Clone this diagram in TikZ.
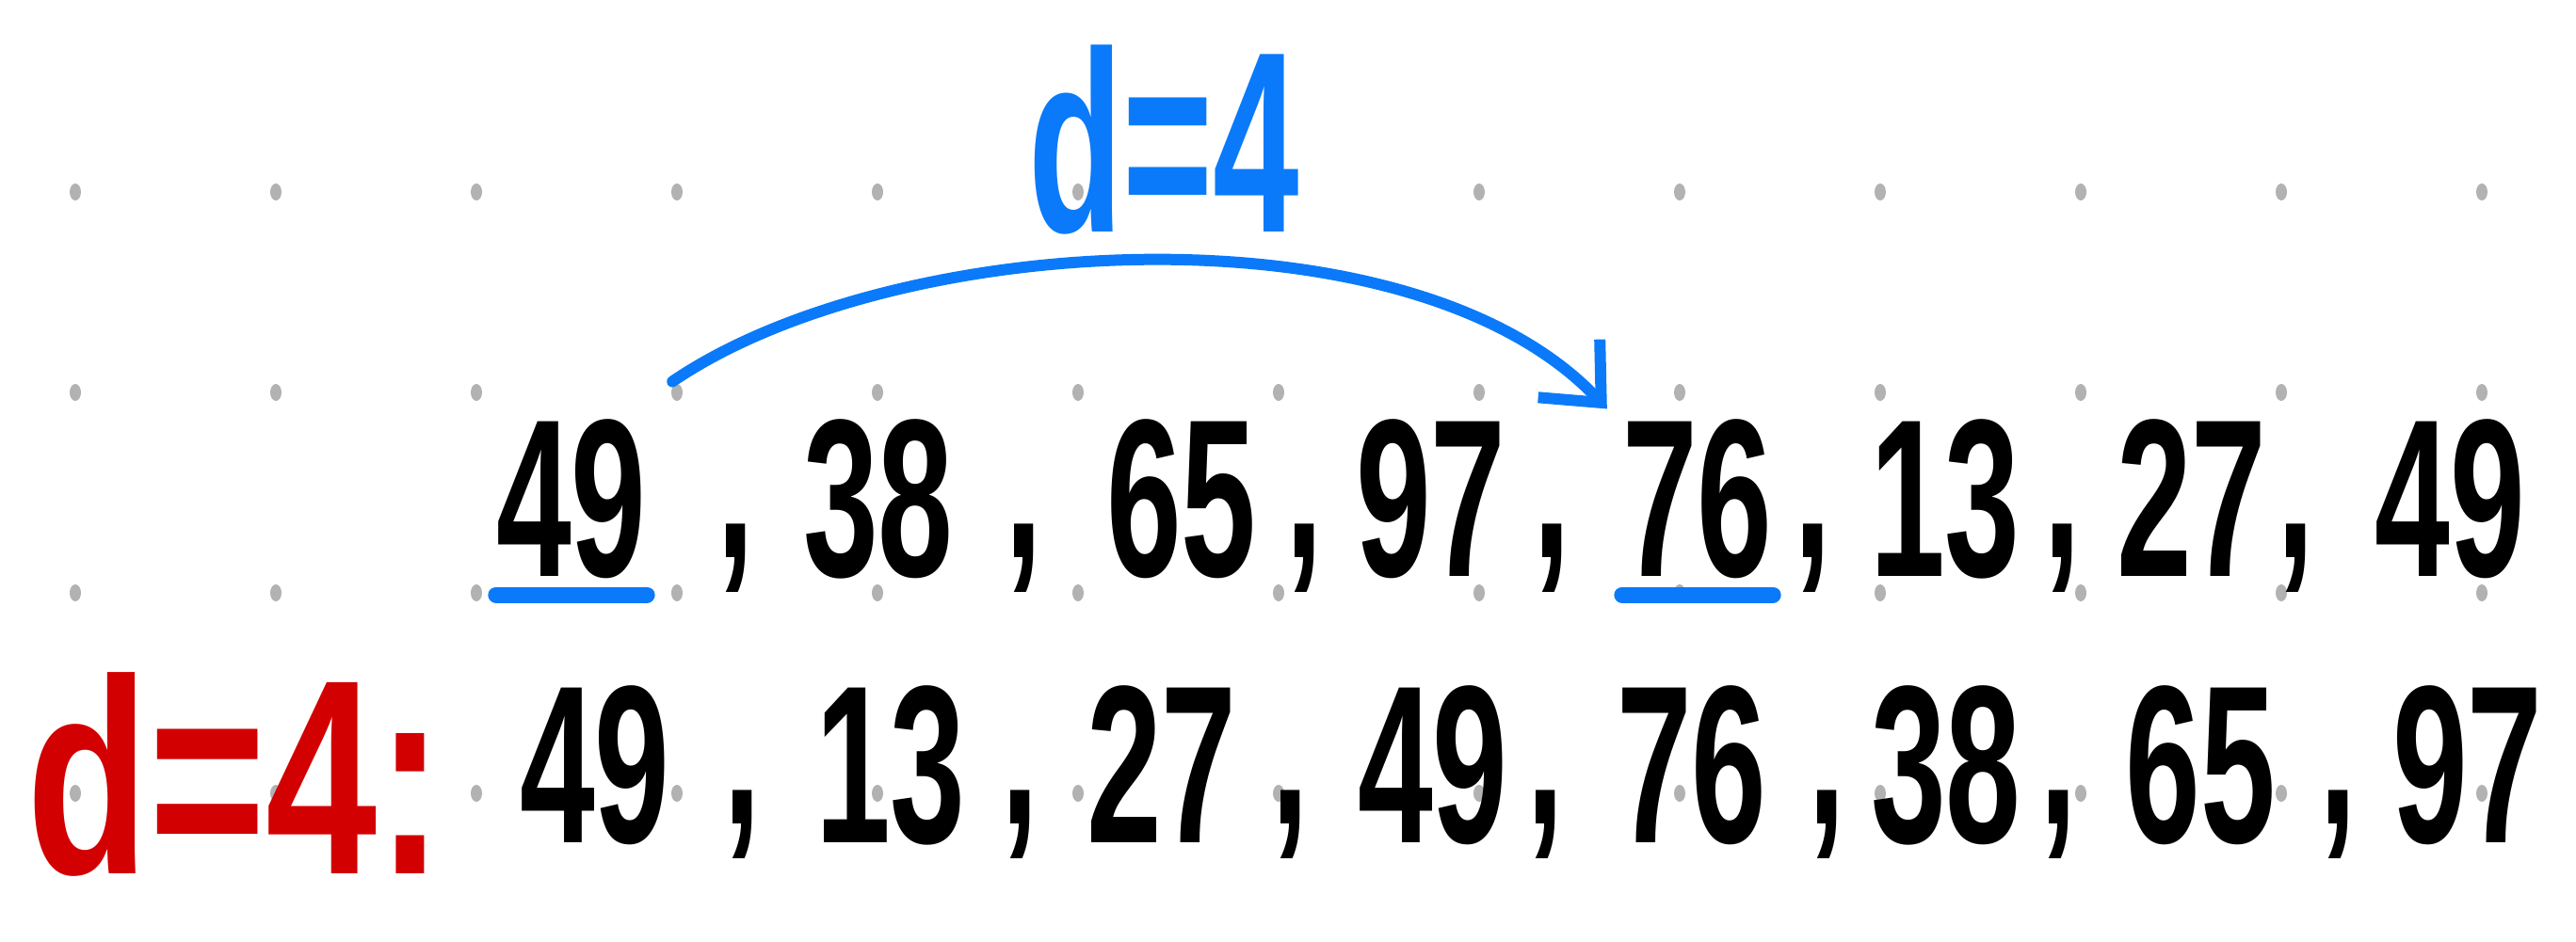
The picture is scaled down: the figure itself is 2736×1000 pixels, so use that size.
\documentclass[tikz,border=0pt]{standalone}
\usepackage{fontspec}
\setmainfont{Liberation Sans}
\usepackage{tikz}
\usetikzlibrary{arrows.meta}
\definecolor{penblue}{RGB}{10,122,250}
\definecolor{penred}{RGB}{210,0,0}
\definecolor{dotgray}{RGB}{178,178,178}
\tikzset{
  num/.style={font=\fontsize{68}{70}\selectfont\bfseries, anchor=base, inner sep=0pt, xscale=0.6},
  uline/.style={penblue, line width=1.7mm, line cap=round},
  jump/.style={penblue, line width=1.2mm, line cap=round, -{Straight Barb[length=5mm,width=9mm]}}
}

\begin{document}
\begin{tikzpicture}[x=0.1mm,y=-0.1mm]
        \useasboundingbox (0,0) rectangle (2736,1000);

		% dotted paper
		\foreach \c in {0,...,12}
		\foreach \r in {0,...,3}
		\fill[dotgray] (80+213*\c,204+213*\r) ellipse (6 and 9);

		% first row
		\foreach \i/\x/\t in {1/607/49,2/933/38,3/1255/65,4/1520/97,5/1803/76,6/2066/13,7/2328/27,8/2602/49}
		\node[num] (a\i) at (\x,612) {\t};
		\foreach \i/\x in {1/781,2/1087,3/1385,4/1648,5/1925,6/2190,7/2438}
		\node[num] (ac\i) at (\x,592) {,};

		% second row
		\node[num, text=penred, font=\fontsize{84}{86}\selectfont\bfseries, xscale=1.2] (D) at (250,928) {d=4:};
		\foreach \i/\x/\t in {1/632/49,2/946/13,3/1234/27,4/1522/49,5/1797/76,6/2067/38,7/2337/65,8/2621/97}
		\node[num] (b\i) at (\x,895) {\t};
		\foreach \i/\x in {1/788,2/1083,3/1370,4/1641,5/1940,6/2186,7/2483}
		\node[num] (bc\i) at (\x,875) {,};

		% gap of 4
		\node[num, text=penblue, font=\fontsize{78}{80}\selectfont\bfseries] (d) at (1236,246) {d=4};
		\draw[uline] ([yshift=-2mm]a1.base west) -- ([yshift=-2mm]a1.base east);
		\draw[uline] ([yshift=-2mm]a5.base west) -- ([yshift=-2mm]a5.base east);
		\draw[jump] ([shift={(27,-39)}]a1.north east) .. controls +(236,-161) and +(-207,-220) .. ([shift={(-16,-10)}]a5.north west);

	\end{tikzpicture}
\end{document}
